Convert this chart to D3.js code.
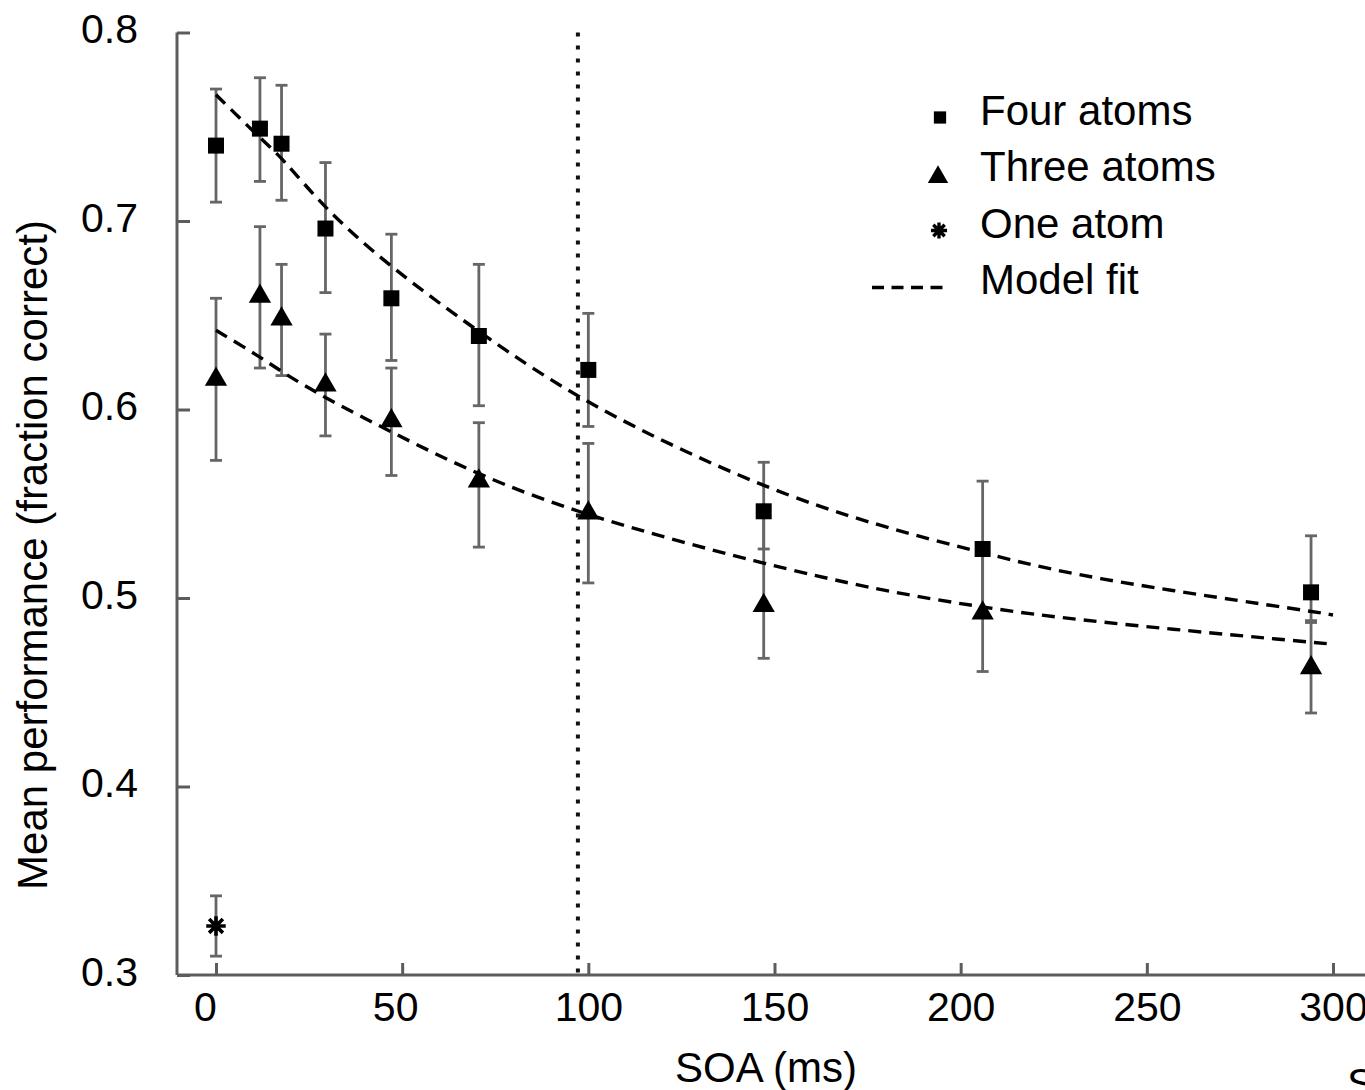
<!DOCTYPE html>
<html>
<head>
<meta charset="utf-8">
<script src="https://cdn.jsdelivr.net/npm/d3@7"></script>
<style>
  body { margin: 0; background: #fff; }
  text { font-family: "Liberation Sans", Arial, Helvetica, sans-serif; fill: #000; }
</style>
</head>
<body>
<div id="chart"></div>
<script>
var svgWidth = 1365;
var svgHeight = 1090;

// SOA values (ms) shared by both multi-atom conditions
var soa = [0, 11.8, 17.6, 29.4, 47.1, 70.6, 100, 147.1, 205.9, 294.1];

// Four atoms
var fourMean  = [0.740, 0.749, 0.741, 0.696, 0.659, 0.639, 0.621, 0.546, 0.526, 0.503];
var fourUpper = [0.770, 0.776, 0.772, 0.731, 0.693, 0.677, 0.651, 0.572, 0.562, 0.533];
var fourLower = [0.710, 0.721, 0.711, 0.662, 0.626, 0.602, 0.591, 0.526, 0.491, 0.488];

// Three atoms
var threeMean  = [0.616, 0.660, 0.648, 0.613, 0.594, 0.562, 0.545, 0.496, 0.492, 0.463];
var threeUpper = [0.659, 0.697, 0.677, 0.640, 0.622, 0.593, 0.582, 0.546, 0.523, 0.487];
var threeLower = [0.573, 0.622, 0.618, 0.586, 0.565, 0.527, 0.508, 0.468, 0.461, 0.439];

// One atom
var oneSoa = [0];
var oneMean = [0.326];
var oneUpper = [0.342];
var oneLower = [0.310];

// model fit curves
var fitSoa   = [0, 11.8, 17.6, 29.4, 47.1, 70.6, 100, 147.1, 178.3, 205.9, 232, 294.1, 300];
var fitFour  = [0.767, 0.744, 0.734, 0.706, 0.675, 0.641, 0.6015, 0.558, 0.538, 0.524, 0.511, 0.493, 0.491];
var fitThree = [0.642, 0.628, 0.620, 0.606, 0.588, 0.565, 0.543, 0.518, 0.504, 0.495, 0.488, 0.4765, 0.4755];

// vertical reference line (ms)
var refSoa = 97.2;

var xTicks = [0, 50, 100, 150, 200, 250, 300];
var yTicks = [0.3, 0.4, 0.5, 0.6, 0.7, 0.8];

var legendLabels = ["Four atoms", "Three atoms", "One atom", "Model fit"];

var svg = d3.select("#chart")
  .append("svg")
  .attr("width", svgWidth)
  .attr("height", svgHeight);

var x = d3.scaleLinear().domain([0, 300]).range([216, 1333]);
var y = d3.scaleLinear().domain([0.3, 0.8]).range([975, 32.5]);

var axisColor = "#5c5c5c";
var fontSize = 41;

// x axis
var xAxisG = svg.append("g")
  .attr("transform", `translate(0, ${y(0.3)})`)
  .call(d3.axisBottom(x).tickValues(xTicks).tickSize(-12).tickPadding(17).tickFormat(d3.format("d")));
xAxisG.select(".domain").remove();
xAxisG.append("line")
  .attr("x1", 177).attr("x2", svgWidth)
  .attr("stroke", axisColor).attr("stroke-width", 3);

// y axis
var yAxisG = svg.append("g")
  .attr("transform", "translate(177, 0)")
  .call(d3.axisLeft(y).tickValues(yTicks).tickSize(-13).tickPadding(39).tickFormat(d3.format(".1f")));
yAxisG.select(".domain").remove();
yAxisG.append("line")
  .attr("y1", y(0.8)).attr("y2", y(0.3))
  .attr("stroke", axisColor).attr("stroke-width", 3);

[xAxisG, yAxisG].forEach(function(g) {
  g.selectAll(".tick line").attr("stroke", axisColor).attr("stroke-width", 3);
  g.selectAll(".tick text")
    .style("font-family", '"Liberation Sans", Arial, Helvetica, sans-serif')
    .style("font-size", fontSize + "px")
    .attr("fill", "#000");
});
yAxisG.selectAll(".tick text").attr("dy", "0.25em");
// the first two x labels sit a little left of their ticks
xAxisG.selectAll(".tick text").attr("dx", d => d === 0 ? -11 : (d === 50 ? -7 : 0));

// axis titles
svg.append("text")
  .attr("transform", "rotate(-90)")
  .attr("x", -555)
  .attr("y", 47)
  .attr("text-anchor", "middle")
  .style("font-size", "42px")
  .text("Mean performance (fraction correct)");

svg.append("text")
  .attr("x", 766)
  .attr("y", 1082)
  .attr("text-anchor", "middle")
  .style("font-size", "42px")
  .text("SOA (ms)");

// cut-off caption letter at the bottom right
svg.append("text")
  .attr("x", 1347)
  .attr("y", 1098)
  .style("font-size", "42px")
  .text("S");

// dotted reference line
svg.append("line")
  .attr("x1", x(refSoa)).attr("x2", x(refSoa))
  .attr("y1", y(0.8)).attr("y2", y(0.3))
  .attr("stroke", "#111")
  .attr("stroke-width", 4)
  .attr("stroke-dasharray", "4,9");

// error bars
function errorBars(xs, lo, hi) {
  var rows = xs.map(function(d, i) { return {x: d, lo: lo[i], hi: hi[i]}; });
  var g = svg.append("g")
    .attr("stroke", "#666")
    .attr("stroke-width", 2.8);
  g.selectAll(".bar").data(rows).enter().append("line")
    .attr("x1", d => x(d.x)).attr("x2", d => x(d.x))
    .attr("y1", d => y(d.lo)).attr("y2", d => y(d.hi));
  g.selectAll(".capHi").data(rows).enter().append("line")
    .attr("x1", d => x(d.x) - 6).attr("x2", d => x(d.x) + 6)
    .attr("y1", d => y(d.hi)).attr("y2", d => y(d.hi));
  g.selectAll(".capLo").data(rows).enter().append("line")
    .attr("x1", d => x(d.x) - 6).attr("x2", d => x(d.x) + 6)
    .attr("y1", d => y(d.lo)).attr("y2", d => y(d.lo));
}
errorBars(soa, fourLower, fourUpper);
errorBars(soa, threeLower, threeUpper);
errorBars(oneSoa, oneLower, oneUpper);

// model fits
var fitLine = d3.line()
  .x(d => x(d[0]))
  .y(d => y(d[1]))
  .curve(d3.curveBasis);

[fitFour, fitThree].forEach(function(vals) {
  svg.append("path")
    .attr("d", fitLine(fitSoa.map((s, i) => [s, vals[i]])))
    .attr("fill", "none")
    .attr("stroke", "#000")
    .attr("stroke-width", 3.4)
    .attr("stroke-dasharray", "13,8");
});

// asterisk symbol (8 arms)
var asterisk = {
  draw: function(context, size) {
    var r = Math.sqrt(size) / 2;
    for (var k = 0; k < 4; k++) {
      var a = k * Math.PI / 4;
      context.moveTo(-r * Math.cos(a), -r * Math.sin(a));
      context.lineTo(r * Math.cos(a), r * Math.sin(a));
    }
  }
};

// markers
svg.selectAll(".sq").data(soa).enter().append("path")
  .attr("transform", (d, i) => `translate(${x(d)}, ${y(fourMean[i])})`)
  .attr("d", d3.symbol().type(d3.symbolSquare).size(256))
  .attr("fill", "#000");

svg.selectAll(".tri").data(soa).enter().append("path")
  .attr("transform", (d, i) => `translate(${x(d)}, ${y(threeMean[i])})`)
  .attr("d", d3.symbol().type(d3.symbolTriangle).size(215))
  .attr("fill", "#000");

svg.selectAll(".star").data(oneSoa).enter().append("path")
  .attr("transform", (d, i) => `translate(${x(d)}, ${y(oneMean[i])})`)
  .attr("d", d3.symbol().type(asterisk).size(380))
  .attr("fill", "none")
  .attr("stroke", "#000")
  .attr("stroke-width", 3.6);

// legend
var legend = svg.append("g");
legend.append("path")
  .attr("transform", "translate(940, 117.5)")
  .attr("d", d3.symbol().type(d3.symbolSquare).size(150))
  .attr("fill", "#000");
legend.append("path")
  .attr("transform", "translate(938, 177)")
  .attr("d", d3.symbol().type(d3.symbolTriangle).size(180))
  .attr("fill", "#000");
legend.append("path")
  .attr("transform", "translate(939, 230.5)")
  .attr("d", d3.symbol().type(asterisk).size(260))
  .attr("fill", "none")
  .attr("stroke", "#000")
  .attr("stroke-width", 3.4);
legend.append("line")
  .attr("x1", 872).attr("x2", 943)
  .attr("y1", 287.5).attr("y2", 287.5)
  .attr("stroke", "#000")
  .attr("stroke-width", 3.4)
  .attr("stroke-dasharray", "12,7.5");

legend.selectAll(".lab").data(legendLabels).enter().append("text")
  .attr("x", 980)
  .attr("y", (d, i) => 125 + i * 56.3)
  .style("font-size", "42px")
  .text(d => d);
</script>
</body>
</html>
